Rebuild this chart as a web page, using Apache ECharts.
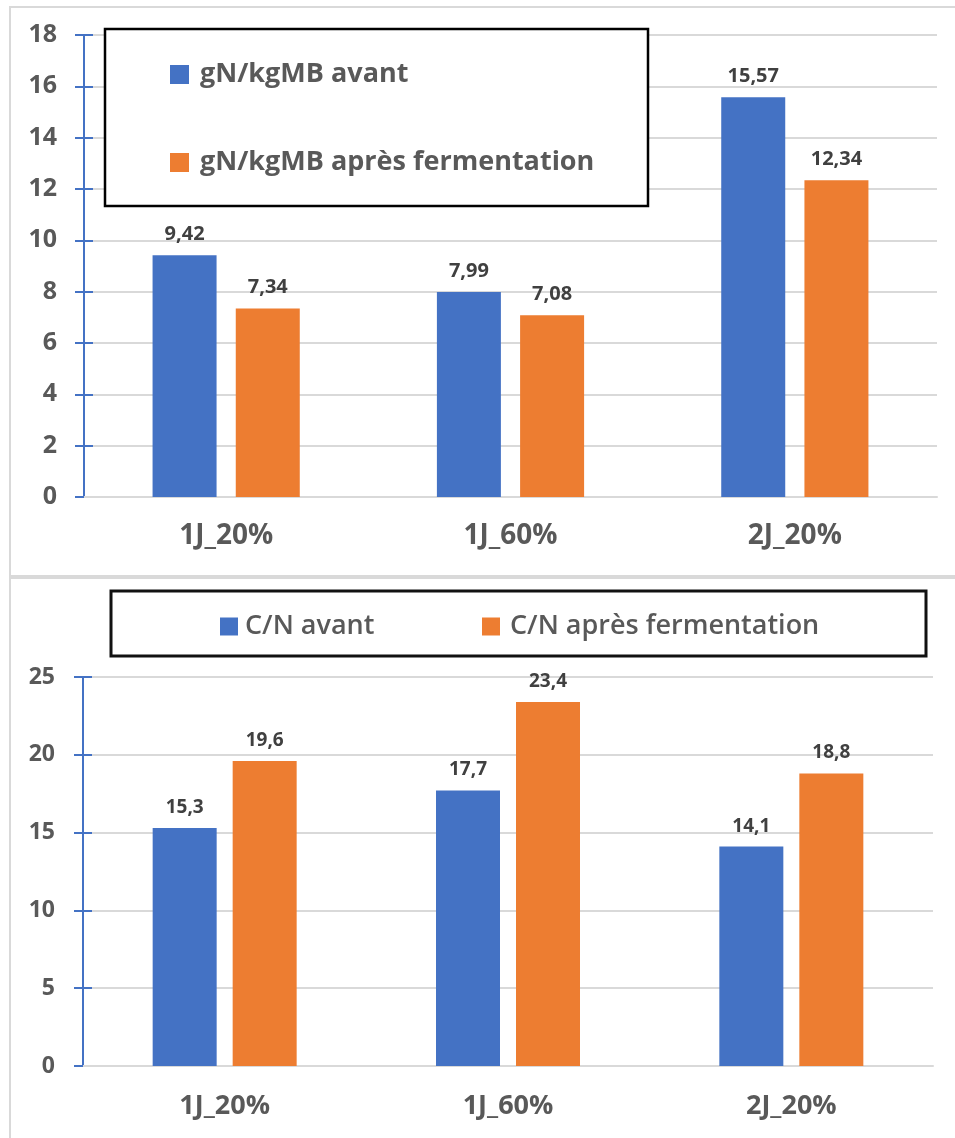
<!DOCTYPE html>
<html><head><meta charset="utf-8">
<script src="https://cdn.jsdelivr.net/npm/echarts@6/dist/echarts.min.js"></script>
<style>html,body{margin:0;padding:0;background:#fff}#c{width:955px;height:1138px}</style>
</head><body><div id="c"></div>
<script>
const categories = ['1J_20%', '1J_60%', '2J_20%'];
const gnAvant = [9.42, 7.99, 15.57];
const gnApres = [7.34, 7.08, 12.34];
const cnAvant = [15.3, 17.7, 14.1];
const cnApres = [19.6, 23.4, 18.8];
const topTicks = [0, 2, 4, 6, 8, 10, 12, 14, 16, 18];
const bottomTicks = [0, 5, 10, 15, 20, 25];
const names = ['gN/kgMB avant', 'gN/kgMB après fermentation', 'C/N avant', 'C/N après fermentation'];

const BLUE = '#4472C4', ORANGE = '#ED7D31', GRAY = '#595959', LGRAY = '#d9d9d9';
const FONT = '"Open Sans"';

const chart = echarts.init(document.getElementById('c'), null, {renderer: 'canvas'});
const fmt = p => String(p.value).replace('.', ',');

function yAxes(gridIndex, ticks, margin, fs) {
  const min = ticks[0], max = ticks[ticks.length - 1], interval = ticks[1] - ticks[0];
  return [{
    type: 'value', gridIndex, position: 'left', min, max, interval,
    axisLine: {show: true, lineStyle: {color: BLUE, width: 2}},
    axisTick: {show: true, length: 9, lineStyle: {color: BLUE, width: 2}},
    axisLabel: {color: GRAY, fontSize: fs, fontWeight: 'bold', fontFamily: FONT, margin},
    splitLine: {show: true, lineStyle: {color: LGRAY, width: 2}}
  }, {
    type: 'value', gridIndex, position: 'left', min, max, interval,
    axisLine: {show: false},
    axisTick: {show: true, inside: true, length: 9, customValues: ticks.slice(1), lineStyle: {color: BLUE, width: 2}},
    axisLabel: {show: false},
    splitLine: {show: false}
  }];
}
function xAxis(gridIndex, margin, fs) {
  return {
    type: 'category', gridIndex, data: categories,
    axisLine: {show: true, lineStyle: {color: LGRAY, width: 2}},
    axisTick: {show: false},
    axisLabel: {color: GRAY, fontSize: fs, fontWeight: 'bold', fontFamily: FONT, margin, lineHeight: fs}
  };
}
function bar(name, data, color, xi, yi, gap, fs) {
  return {
    name, type: 'bar', xAxisIndex: xi, yAxisIndex: yi, data, barWidth: 64, barGap: gap,
    itemStyle: {color},
    label: {show: true, position: 'top', distance: 11, formatter: fmt,
      color: '#404040', fontSize: fs, fontWeight: 'bold', fontFamily: FONT}
  };
}

const legendText = (fs, pad, w) => ({color: GRAY, fontSize: fs, fontWeight: w, fontFamily: FONT, lineHeight: 24, padding: [0, 0, 0, pad]});

chart.setOption({
  animation: false,
  graphic: [
    {type: 'rect', shape: {x: 10, y: 7, width: 960, height: 569}, style: {fill: null, stroke: LGRAY, lineWidth: 2}, z: 1},
    {type: 'rect', shape: {x: 10, y: 578, width: 960, height: 600}, style: {fill: null, stroke: LGRAY, lineWidth: 2}, z: 1},
    {type: 'rect', shape: {x: 105, y: 29, width: 543, height: 177}, style: {fill: '#fff', stroke: '#000', lineWidth: 2.5}, z: 3},
    {type: 'rect', shape: {x: 111, y: 591, width: 815, height: 65}, style: {fill: '#fff', stroke: '#111', lineWidth: 3}, z: 3}
  ],
  grid: [
    {left: 84, right: 18, top: 35, bottom: 641},
    {left: 83, right: 22, top: 677, bottom: 72}
  ],
  xAxis: [xAxis(0, 25, 28), xAxis(1, 27, 27)],
  yAxis: [...yAxes(0, topTicks, 27, 25), ...yAxes(1, bottomTicks, 28, 23)],
  legend: [
    {data: [names[0], names[1]], orient: 'vertical', left: 165, top: 56, itemWidth: 19, itemHeight: 19,
      itemGap: 61, icon: 'rect', textStyle: legendText(27, 6, 'bold'), z: 5},
    {data: [names[2]], orient: 'horizontal', left: 215, top: 608, itemWidth: 18, itemHeight: 18,
      icon: 'rect', textStyle: legendText(27, 2, 600), z: 5},
    {data: [names[3]], orient: 'horizontal', left: 477, top: 608, itemWidth: 18, itemHeight: 18,
      icon: 'rect', textStyle: legendText(27, 5, 600), z: 5}
  ],
  series: [
    bar(names[0], gnAvant, BLUE, 0, 0, '30%', 20),
    bar(names[1], gnApres, ORANGE, 0, 0, '30%', 20),
    bar(names[2], cnAvant, BLUE, 1, 2, '25%', 19),
    bar(names[3], cnApres, ORANGE, 1, 2, '25%', 19)
  ]
});
</script></body></html>
